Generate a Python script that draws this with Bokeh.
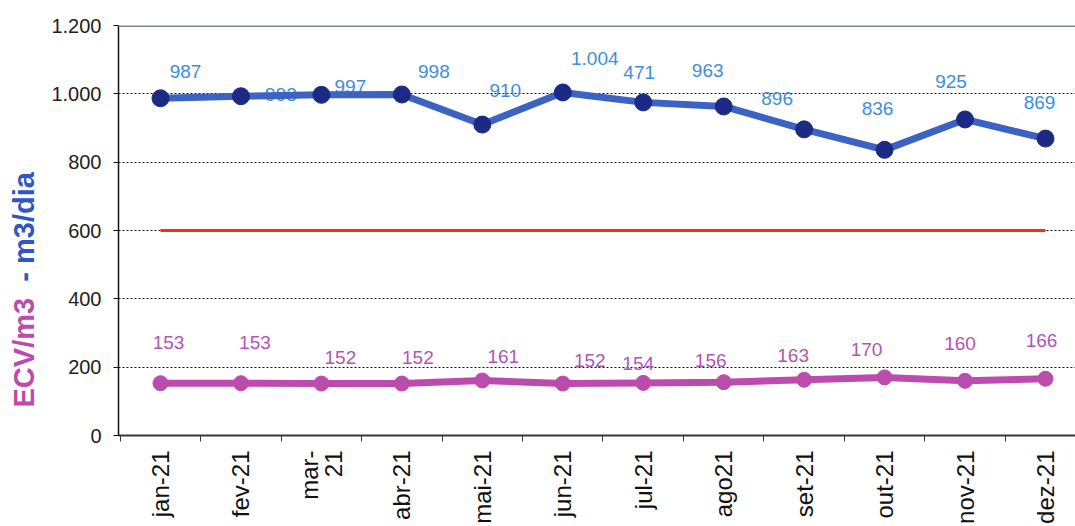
from math import pi

from bokeh.plotting import figure
from bokeh.layouts import row
from bokeh.models import (Range1d, FixedTicker, LinearAxis, Label, Span,
                          ColumnDataSource, Grid)
from bokeh.core.properties import value
from bokeh.embed import file_html
from bokeh.resources import INLINE

# ---- data ---------------------------------------------------------------
months = ["jan-21", "fev-21", "mar-\n21", "abr-21", "mai-21", "jun-21",
          "jul-21", "ago21", "set-21", "out-21", "nov-21", "dez-21"]
m3_dia = [987, 993, 997, 998, 910, 1004, 975, 963, 896, 836, 925, 869]
m3_dia_labels = ["987", "993", "997", "998", "910", "1.004", "471", "963",
                 "896", "836", "925", "869"]
ecv_m3 = [153, 153, 152, 152, 161, 152, 154, 156, 163, 170, 160, 166]
ecv_m3_labels = [str(v) for v in ecv_m3]
target = 600
y_ticks = [0, 200, 400, 600, 800, 1000, 1200]
y_tick_labels = ["0", "200", "400", "600", "800", "1.000", "1.200"]

# data-label placement, pixels (dx right, dy up)
blue_dx = [25, 40, 29, 32, 23, 32, -4, -16, -27, -7, -14, -6]
blue_dy = [27, 2, 8, 23, 34, 34, 30, 36, 31, 41, 38, 36]
pink_dx = [8, 14, 19, 16, 21, 27, -5, -13, -11, -18, -5, -4]
pink_dy = [41, 41, 26, 26, 24, 23, 19, 22, 24, 28, 37, 38]

FONT = "Liberation Sans"
BLUE_LINE = "#3c62c2"
BLUE_DOT = "#1c2a86"
BLUE_TXT = "#3d8ede"
PINK = "#bb4cae"
PINK_TXT = "#b055b8"
RED = "#ff2a14"
TITLE_BLUE = "#2f56c4"

xs = list(range(len(months)))
y_range = Range1d(0, 1200)

# ---- narrow strip carrying the two-coloured y title ----------------------
TW = 45
tfig = figure(width=TW, height=526, output_backend="svg", toolbar_location=None,
              x_range=Range1d(0, TW), y_range=y_range,
              min_border=0)
tfig.axis.visible = False
tfig.grid.visible = False
tfig.outline_line_color = None
tfig.add_layout(Label(x=23, y=82, text="ECV/m3", angle=pi / 2,
                      text_align="left", text_baseline="middle",
                      text_font=FONT, text_font_size="29px",
                      text_font_style="bold", text_color=PINK))
tfig.add_layout(Label(x=23, y=450, text="- m3/dia", angle=pi / 2,
                      text_align="left", text_baseline="middle",
                      text_font=FONT, text_font_size="29px",
                      text_font_style="bold", text_color=TITLE_BLUE))

# ---- main chart -----------------------------------------------------------
p = figure(width=1075 - TW, height=526, output_backend="svg",
           toolbar_location=None,
           x_range=Range1d(-0.522, 11.373), y_range=y_range,
           min_border_left=118 - TW, min_border_right=0, min_border_top=25,
           min_border_bottom=91)
p.outline_line_color = None
p.grid.visible = False
p.below = []
p.left = []

# y axis
yax = LinearAxis(ticker=FixedTicker(ticks=y_ticks),
                 major_label_overrides={t: l for t, l in zip(y_ticks, y_tick_labels)})
yax.axis_line_color = "#111111"
yax.axis_line_width = 1.5
yax.major_tick_in = 0
yax.major_tick_out = 5
yax.major_tick_line_color = "#111111"
yax.minor_tick_line_color = None
yax.major_label_standoff = 12
yax.major_label_text_font = FONT
yax.major_label_text_font_size = "20px"
yax.major_label_text_color = "#222222"
p.add_layout(yax, "left")

# x axis: tick marks on category boundaries
bounds = [i - 0.5 for i in range(len(months) + 1)]
xtick_ax = LinearAxis(ticker=FixedTicker(ticks=bounds),
                      major_label_overrides={b: "" for b in bounds})
xtick_ax.axis_line_color = "#2e3a3a"
xtick_ax.axis_line_width = 2
xtick_ax.major_tick_in = 0
xtick_ax.major_tick_out = 6
xtick_ax.major_tick_line_color = "#2e3a3a"
xtick_ax.minor_tick_line_color = None
xtick_ax.major_label_standoff = 0
xtick_ax.major_label_text_font_size = "1px"
p.add_layout(xtick_ax, "below")

# x axis: month names centred on each category
xlab_ax = LinearAxis(ticker=FixedTicker(ticks=xs),
                     major_label_overrides={i: m for i, m in zip(xs, months)})
xlab_ax.axis_line_color = None
xlab_ax.major_tick_line_color = None
xlab_ax.minor_tick_line_color = None
xlab_ax.major_tick_in = 0
xlab_ax.major_tick_out = 0
xlab_ax.major_label_standoff = 9
xlab_ax.major_label_orientation = pi / 2
xlab_ax.major_label_text_font = FONT
xlab_ax.major_label_text_font_size = "24px"
xlab_ax.major_label_text_color = "#111111"
xlab_ax.major_label_text_line_height = 0.9
p.add_layout(xlab_ax, "below")

# dotted horizontal grid, solid top border
g = Grid(dimension=1, ticker=FixedTicker(ticks=[200, 400, 600, 800, 1000]))
g.grid_line_color = "#111111"
g.grid_line_width = 1
g.grid_line_dash = "2 2"
p.add_layout(g)
p.add_layout(Span(location=1200, dimension="width", line_color="#7f8a8a",
                  line_width=3))

# series sources
blue = ColumnDataSource(dict(x=xs, y=m3_dia, t=m3_dia_labels,
                             dx=blue_dx, dy=[-d for d in blue_dy]))
pink = ColumnDataSource(dict(x=xs, y=ecv_m3, t=ecv_m3_labels,
                             dx=pink_dx, dy=[-d for d in pink_dy]))

# value labels sit underneath the lines
p.text("x", "y", text="t", source=blue, x_offset="dx", y_offset="dy",
       text_font=value(FONT), text_font_size="19px", text_color=BLUE_TXT,
       text_align="center", text_baseline="middle")
p.text("x", "y", text="t", source=pink, x_offset="dx", y_offset="dy",
       text_font=value(FONT), text_font_size="19px", text_color=PINK_TXT,
       text_align="center", text_baseline="middle")

# target line
p.line([xs[0], xs[-1]], [target, target], line_color=RED, line_width=3)

# lines and markers
p.line("x", "y", source=pink, line_color=PINK, line_width=7)
p.scatter("x", "y", source=pink, size=15, fill_color=PINK, line_color=PINK)
p.line("x", "y", source=blue, line_color=BLUE_LINE, line_width=7)
p.scatter("x", "y", source=blue, size=17, fill_color=BLUE_DOT,
          line_color=BLUE_DOT)

layout = row(tfig, p, spacing=0)
open("out.html", "w").write(file_html(layout, INLINE))
